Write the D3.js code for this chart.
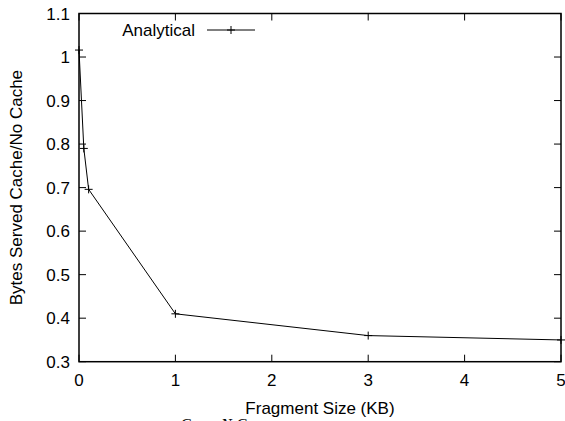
<!DOCTYPE html>
<html>
<head>
<meta charset="utf-8">
<script src="https://cdn.jsdelivr.net/npm/d3@7/dist/d3.min.js"></script>
<style>
  body { margin: 0; background: #fff; }
  svg text { font-family: "Liberation Sans", Arial, sans-serif; font-size: 17px; fill: #000; }
</style>
</head>
<body>
<div id="chart"></div>
<script>
// data
var sizes = [0, 0.05, 0.1, 1, 3, 5];
var ratios = [1.016, 0.79, 0.696, 0.41, 0.36, 0.35];
var xTicks = [0, 1, 2, 3, 4, 5];
var yTicks = [0.3, 0.4, 0.5, 0.6, 0.7, 0.8, 0.9, 1.0, 1.1];
var seriesName = "Analytical";

var W = 565, H = 421;
var pLeft = 79, pRight = 561, pTop = 13.5, pBottom = 361.7;

var svg = d3.select("#chart").append("svg").attr("width", W).attr("height", H);

var x = d3.scaleLinear().domain([0, 5]).range([pLeft, pRight]);
var y = d3.scaleLinear().domain([0.3, 1.1]).range([pBottom, pTop]);

// ticks drawn inward on all four sides, gnuplot style
var tl = 7;
xTicks.forEach(function(t) {
  svg.append("line").attr("x1", x(t)).attr("x2", x(t)).attr("y1", pBottom).attr("y2", pBottom - tl).attr("stroke", "#000");
  svg.append("line").attr("x1", x(t)).attr("x2", x(t)).attr("y1", pTop).attr("y2", pTop + tl).attr("stroke", "#000");
  svg.append("text").attr("x", x(t)).attr("y", pBottom + 24).attr("text-anchor", "middle").text(d3.format("d")(t));
});
yTicks.forEach(function(t) {
  svg.append("line").attr("x1", pLeft).attr("x2", pLeft + tl).attr("y1", y(t)).attr("y2", y(t)).attr("stroke", "#000");
  svg.append("line").attr("x1", pRight).attr("x2", pRight - tl).attr("y1", y(t)).attr("y2", y(t)).attr("stroke", "#000");
  svg.append("text").attr("x", pLeft - 9).attr("y", y(t) + 6).attr("text-anchor", "end").text(t === 1 ? "1" : d3.format(".1f")(t));
});

svg.append("rect").attr("x", pLeft).attr("y", pTop).attr("width", pRight - pLeft).attr("height", pBottom - pTop)
  .attr("fill", "none").attr("stroke", "#000").attr("stroke-width", 1.5);

// series
var pts = sizes.map(function(s, i) { return [s, ratios[i]]; });
var line = d3.line().x(function(d) { return x(d[0]); }).y(function(d) { return y(d[1]); });
svg.append("path").datum(pts).attr("d", line).attr("fill", "none").attr("stroke", "#000").attr("stroke-width", 1);

function cross(cx, cy) {
  var r = 4;
  svg.append("path").attr("d", "M" + (cx - r) + "," + cy + "H" + (cx + r) + "M" + cx + "," + (cy - r) + "V" + (cy + r))
    .attr("stroke", "#000").attr("stroke-width", 1);
}
pts.forEach(function(d) { cross(x(d[0]), y(d[1])); });

// legend
svg.append("text").attr("x", 195).attr("y", 36).attr("text-anchor", "end").text(seriesName);
svg.append("line").attr("x1", 207).attr("x2", 255).attr("y1", 30).attr("y2", 30).attr("stroke", "#000");
cross(231, 30);

// axis titles
svg.append("text").attr("x", 320).attr("y", 414).attr("text-anchor", "middle").text("Fragment Size (KB)");
svg.append("text").attr("transform", "translate(22," + ((pTop + pBottom) / 2) + ") rotate(-90)")
  .attr("text-anchor", "middle").text("Bytes Served Cache/No Cache");

// stray serif caption cut off at the page bottom
svg.append("text").attr("x", 180).attr("y", 430).style("font-family", "'Liberation Serif', serif")
  .style("font-style", "italic").style("font-size", "16px").text("C");
svg.append("text").attr("x", 221).attr("y", 430).style("font-family", "'Liberation Serif', serif")
  .style("font-style", "italic").style("font-size", "16px").text("N C");
</script>
</body>
</html>
